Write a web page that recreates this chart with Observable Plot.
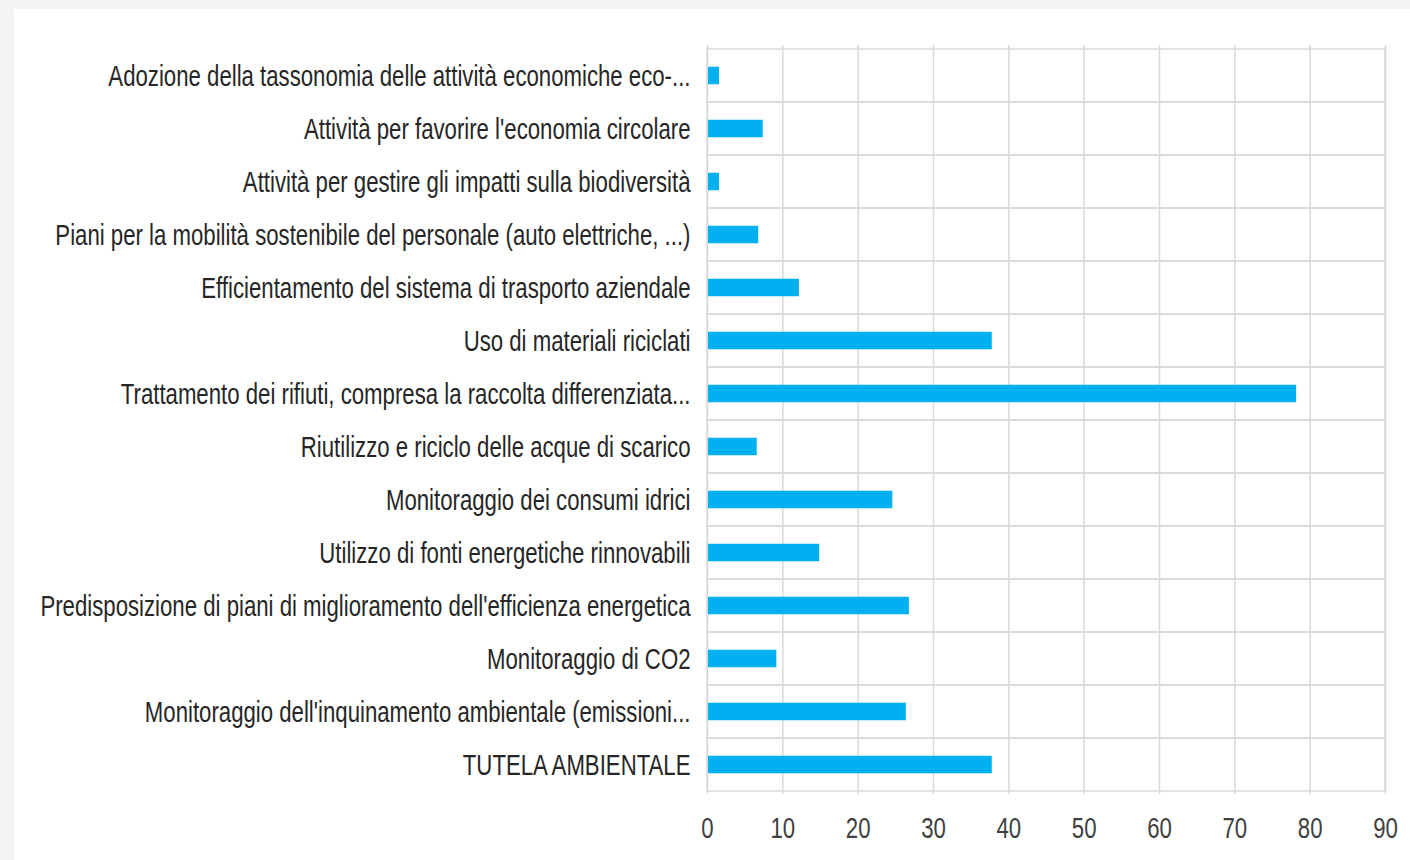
<!DOCTYPE html>
<html>
<head>
<meta charset="utf-8">
<script src="https://cdn.jsdelivr.net/npm/d3@7"></script>
<script src="https://cdn.jsdelivr.net/npm/@observablehq/plot@0.6"></script>
<style>
  html, body { margin: 0; padding: 0; background: #f3f3f3; width: 1410px; height: 860px; overflow: hidden; }
  #panel { position: absolute; left: 14px; top: 9px; width: 1396px; height: 851px; background: #ffffff; }
  #panel svg { display: block; }
</style>
</head>
<body>
<div id="panel"></div>
<script>
const categories = [
  "Adozione della tassonomia delle attività economiche eco-...",
  "Attività per favorire l'economia circolare",
  "Attività per gestire gli impatti sulla biodiversità",
  "Piani per la mobilità sostenibile del personale (auto elettriche, ...)",
  "Efficientamento del sistema di trasporto aziendale",
  "Uso di materiali riciclati",
  "Trattamento dei rifiuti, compresa la raccolta differenziata...",
  "Riutilizzo e riciclo delle acque di scarico",
  "Monitoraggio dei consumi idrici",
  "Utilizzo di fonti energetiche rinnovabili",
  "Predisposizione di piani di miglioramento dell'efficienza energetica",
  "Monitoraggio di CO2",
  "Monitoraggio dell'inquinamento ambientale (emissioni...",
  "TUTELA AMBIENTALE"
];
const values = [1.6, 7.4, 1.6, 6.8, 12.2, 37.8, 78.2, 6.6, 24.6, 14.9, 26.8, 9.2, 26.4, 37.8];
const xTicks = [0, 10, 20, 30, 40, 50, 60, 70, 80, 90];

const data = categories.map((c, i) => ({category: c, value: values[i]}));

const W = 1396, H = 851;
const chart = Plot.plot({
  width: W,
  height: H,
  marginLeft: 693,
  marginRight: 25,
  marginTop: 36,
  marginBottom: 66,
  style: {fontFamily: "'Liberation Sans', Arial, sans-serif", fontSize: "30px", background: "#ffffff"},
  x: {domain: [0, 90], ticks: xTicks, label: null},
  y: {domain: categories, padding: 0, label: null},
  marks: [
    Plot.ruleX(xTicks, {stroke: "#d9d9d9", strokeWidth: 1.5}),
    Plot.barX(categories, {y: d => d, x1: 0, x2: 90, fill: "none", stroke: "#d9d9d9", strokeWidth: 1.5}),
    Plot.barX(data, {y: "category", x: "value", fill: "#00b0f0", insetTop: 17.75, insetBottom: 17.75, insetLeft: 1}),
    Plot.axisY({tickSize: 0, tickPadding: 17, label: null, fill: "#262626", fontSize: 30}),
    Plot.axisX({ticks: xTicks, tickSize: 0, tickPadding: 22, label: null, fill: "#404040", fontSize: 30})
  ]
});
document.getElementById("panel").appendChild(chart);

// condensed look of the original labels
chart.querySelectorAll('g[aria-label$="tick label"] text').forEach(t => {
  const tr = t.getAttribute("transform") || "";
  t.setAttribute("transform", tr + " scale(0.74,1)");
});
</script>
</body>
</html>
